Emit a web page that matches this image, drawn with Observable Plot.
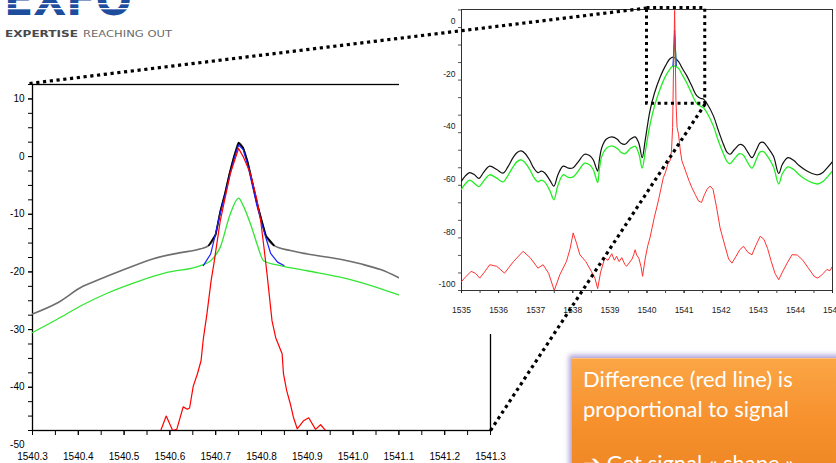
<!DOCTYPE html>
<html><head><meta charset="utf-8">
<script src="https://cdn.jsdelivr.net/npm/d3@7"></script>
<script src="https://cdn.jsdelivr.net/npm/@observablehq/plot@0.6"></script>
<style>
html,body{margin:0;padding:0;background:#fff;}
body{width:836px;height:463px;overflow:hidden;position:relative;}
.abs{position:absolute;}
#leftChart{left:0;top:70px;z-index:1;}
#rightChart{left:399px;top:0;z-index:2;background:#fff;}
#note{left:572px;top:358px;width:300px;height:140px;z-index:3;
  background:linear-gradient(#fba646,#f7922f 40%,#ea821f);
  box-shadow:0 0 5px 3px rgba(150,132,205,0.75);border-top:1px solid #fcc07a;}
#noteText{left:0;top:0;z-index:4;}
#overlay{left:0;top:0;z-index:5;pointer-events:none;}
#logo{left:0;top:0;z-index:0;}
</style></head>
<body>
<svg id="logo" class="abs" width="200" height="45">
  <text x="4" y="15" font-family="DejaVu Sans" font-weight="bold" font-size="46" fill="#1f4d9e" textLength="128" lengthAdjust="spacingAndGlyphs">EXFO</text>
  <rect x="0" y="3" width="140" height="1.3" fill="#fff"/>
  <rect x="0" y="8" width="140" height="1.3" fill="#fff"/>
  <text x="5" y="37" font-family="DejaVu Sans" font-weight="bold" font-size="8" fill="#4a4a4a" textLength="73" lengthAdjust="spacingAndGlyphs">EXPERTISE</text>
  <text x="83" y="37" font-family="DejaVu Sans" font-size="8" fill="#6a6a6a" textLength="89" lengthAdjust="spacingAndGlyphs">REACHING OUT</text>
</svg>
<div id="leftChart" class="abs"></div>
<div id="rightChart" class="abs"></div>
<div id="note" class="abs"></div>
<svg id="noteText" class="abs" width="836" height="463" style="pointer-events:none">
  <g font-family="Lato, 'Open Sans', sans-serif" font-size="22" fill="#fff">
    <text x="583" y="387">Difference (red line) is</text>
    <text x="583" y="417">proportional to signal</text>
    <text x="583" y="471">➔ Get signal « shape »</text>
  </g>
</svg>
<div id="overlay" class="abs"></div>
<script>
// ---------- Left chart (zoom) data ----------
const leftXDomain = [1540.3, 1541.3];
const leftYDomain = [-47.5, 12.5];
const leftXTicks = [1540.3,1540.4,1540.5,1540.6,1540.7,1540.8,1540.9,1541.0,1541.1,1541.2,1541.3];
const leftYTicks = [10,0,-10,-20,-30,-40];
const leftYExtraLabel = [-50];

const leftGrayX = [1540.30,1540.354,1540.41,1540.44,1540.50,1540.564,1540.62,1540.667,1540.685,1540.70,1540.71,1540.72,1540.73,1540.74,1540.75,1540.76,1540.77,1540.78,1540.79,1540.80,1540.81,1540.827,1540.863,1540.90,1540.972,1541.016,1541.06,1541.10];
const leftGrayY = [-27.3,-25.4,-22.5,-21.5,-19.6,-17.7,-16.7,-16.0,-15.4,-13.5,-9.5,-6.5,-3,0,2.4,1.5,-1,-4.5,-8,-11,-13.8,-15.4,-16.3,-16.9,-17.8,-18.6,-19.6,-21.0];

const leftBlackX = [1540.685,1540.70,1540.71,1540.72,1540.73,1540.74,1540.75,1540.76,1540.77,1540.78,1540.79,1540.80,1540.81,1540.827];
const leftBlackY = [-15.4,-13.5,-9.5,-6.5,-3,0,2.4,1.5,-1,-4.5,-8,-11,-13.8,-15.4];

const leftBlueX = [1540.673,1540.689,1540.696,1540.71,1540.72,1540.73,1540.74,1540.75,1540.76,1540.77,1540.78,1540.79,1540.80,1540.81,1540.82,1540.835,1540.849];
const leftBlueY = [-18.9,-16.9,-14.6,-9.8,-6.8,-3.5,-0.4,2.0,1.2,-1.5,-5,-8.5,-11.5,-14.2,-16.8,-18.3,-18.9];

const leftGreenX = [1540.30,1540.354,1540.41,1540.463,1540.536,1540.594,1540.667,1540.69,1540.71,1540.732,1540.75,1540.76,1540.776,1540.79,1540.805,1540.841,1540.90,1540.972,1541.016,1541.10];
const leftGreenY = [-30.5,-28.2,-25.7,-23.7,-21.5,-20.1,-18.9,-18.0,-15.7,-9.9,-7.2,-8.5,-11.7,-15.1,-18.1,-18.9,-19.8,-20.9,-21.8,-24.0];

const leftRedX = [1540.58,1540.592,1540.606,1540.615,1540.629,1540.638,1540.643,1540.651,1540.66,1540.668,1540.673,1540.681,1540.69,1540.696,1540.71,1540.732,1540.75,1540.76,1540.776,1540.79,1540.798,1540.805,1540.812,1540.823,1540.831,1540.845,1540.848,1540.855,1540.863,1540.87,1540.878,1540.892,1540.903,1540.918,1540.929,1540.94];
const leftRedY = [-47.5,-45.0,-47.5,-47.3,-43.4,-43.8,-43.6,-39.8,-37.7,-35.4,-31.6,-27.2,-21.5,-18.6,-11.1,-2.9,1.4,0,-3,-7.5,-11,-15.5,-20.3,-28.5,-31.4,-34.2,-37.7,-40.6,-42.9,-45.3,-47.2,-45.8,-45.3,-47.3,-46.5,-47.5];

// ---------- Right chart (full spectrum) data ----------
const rightXDomain = [1535, 1545];
const rightYDomain = [-100, 6.84];
const rightXTicks = [1535,1536,1537,1538,1539,1540,1541,1542,1543,1544,1545];
const rightYTicks = [0,-20,-40,-60,-80,-100];
const zoomBoxX = [1540.0, 1541.57];
const zoomBoxY = [-29, 7.4];

const rightX = [1535.0,1535.1,1535.22,1535.35,1535.47,1535.6,1535.76,1535.95,1536.12,1536.25,1536.39,1536.5,1536.61,1536.72,1536.84,1536.95,1537.06,1537.15,1537.24,1537.38,1537.49,1537.6,1537.74,1537.88,1538.01,1538.15,1538.32,1538.45,1538.55,1538.62,1538.67,1538.72,1538.78,1538.9,1539.05,1539.2,1539.3,1539.41,1539.55,1539.68,1539.78,1539.87,1539.95,1540.08,1540.2,1540.35,1540.5,1540.62,1540.71,1540.85,1540.95,1541.07,1541.2,1541.34,1541.45,1541.52,1541.62,1541.79,1541.92,1542.06,1542.16,1542.24,1542.35,1542.5,1542.6,1542.72,1542.83,1542.95,1543.05,1543.14,1543.25,1543.41,1543.55,1543.65,1543.8,1543.95,1544.1,1544.3,1544.45,1544.6,1544.75,1544.88,1545.0];
const rightBlackY = [-58.4,-56.5,-55.2,-56,-57.4,-55,-52.7,-54,-55.4,-53,-49.5,-47.5,-46.9,-48,-50.5,-53.5,-55.2,-54.6,-55.2,-58,-60.3,-56,-52.7,-53.5,-53.3,-51,-48.2,-48.7,-50.3,-53,-54.6,-50,-45.7,-42.5,-41.6,-42.5,-44,-44.4,-42.5,-41.6,-44,-49.5,-43,-31.7,-25,-19,-14.5,-11.9,-11.3,-13,-15.5,-18.3,-22,-25.9,-27,-27.2,-29,-33.6,-39,-44.4,-47.5,-48.2,-46.5,-44.5,-45,-47.5,-49.5,-46.5,-43.8,-43.7,-45.5,-49,-55.5,-52,-49.5,-50.5,-52.5,-54.5,-55.5,-56,-55,-53,-51];
const rightGreenY = [-61.5,-59.5,-58,-59.3,-60.5,-58.3,-56,-57.3,-58.7,-56.3,-53,-51,-50.3,-51.5,-54,-57,-58.7,-58,-58.7,-62,-65.5,-60,-56,-57,-56.8,-54.5,-51.6,-52.2,-54,-57,-59,-53.5,-49,-46,-45,-46,-47.5,-48,-46,-45.2,-48,-53.5,-47.5,-37,-30,-23.5,-18.5,-15.8,-14.6,-15.5,-18,-21,-25,-28.8,-30,-30.5,-32.5,-37.5,-43,-48,-51,-51.8,-50,-48,-48.6,-51.5,-53.5,-50,-47.3,-47.2,-49,-53,-59.5,-55.5,-53,-54,-56,-58,-59,-59.5,-58.5,-56.5,-54.5];

const rightGreenSpikeX = [1540.71,1540.735,1540.75,1540.765,1540.79];
const rightGreenSpikeY = [-14.6,-8,-3.5,-8,-15];
const rightBlueSpikeX = [1540.70,1540.73,1540.745,1540.76,1540.79];
const rightBlueSpikeY = [-14.5,-6,-1,-6,-14.5];

const rightRedX = [1535.0,1535.1,1535.26,1535.38,1535.49,1535.62,1535.76,1535.95,1536.16,1536.4,1536.66,1536.85,1537.06,1537.2,1537.35,1537.5,1537.65,1537.83,1537.93,1538.01,1538.1,1538.19,1538.35,1538.5,1538.6,1538.67,1538.75,1538.86,1538.95,1539.05,1539.12,1539.18,1539.25,1539.32,1539.4,1539.45,1539.52,1539.6,1539.65,1539.68,1539.72,1539.78,1539.84,1539.88,1539.95,1540.02,1540.08,1540.14,1540.2,1540.26,1540.32,1540.38,1540.44,1540.5,1540.56,1540.62,1540.66,1540.69,1540.71,1540.73,1540.745,1540.76,1540.78,1540.81,1540.85,1540.9,1540.94,1541.0,1541.07,1541.14,1541.21,1541.3,1541.39,1541.47,1541.55,1541.62,1541.7,1541.78,1541.87,1541.97,1542.1,1542.2,1542.29,1542.4,1542.5,1542.6,1542.72,1542.83,1542.93,1543.05,1543.15,1543.25,1543.35,1543.45,1543.55,1543.65,1543.78,1543.91,1544.05,1544.2,1544.35,1544.5,1544.59,1544.68,1544.75,1544.85,1544.93,1545.0];
const rightRedY = [-96.6,-95,-92.7,-93.5,-95.3,-93,-90.2,-90.8,-93.4,-89,-85.1,-87.5,-91.5,-90.2,-93.5,-100,-94,-88.9,-84,-78.1,-82,-86.4,-89,-92.7,-95.5,-99.3,-93,-87.7,-88.5,-86,-88.5,-87,-89,-87.5,-90,-90.8,-89.5,-88,-86,-84.5,-86.5,-87.7,-91,-94.6,-88,-83,-80,-76,-72,-68.6,-65,-61,-57.1,-55,-52,-50.7,-47,-38,-20,-5,6.5,-8,-28,-38,-40.6,-47,-50.7,-53,-55.8,-58.5,-60.9,-63.5,-66,-66.5,-63.5,-61.5,-60.3,-61.5,-68,-76.2,-83,-88,-89.6,-87,-84.5,-83.2,-85.5,-86.4,-83,-79.4,-80.5,-84,-89,-93.5,-95.9,-93,-89.5,-86.4,-86.5,-88.5,-91.5,-94.5,-95.3,-94.5,-93.5,-92,-92.5,-90.8];

// ---------- build ----------
const hy = d => String(d);  // plain hyphen minus as in the original
const font = "'Liberation Sans', Arial, sans-serif";

const leftPlot = Plot.plot({
  width: 530, height: 393,
  marginLeft: 32, marginRight: 40, marginTop: 14, marginBottom: 33,
  style: {background: "transparent", fontFamily: font, fontSize: "10px", color: "#000", overflow: "visible"},
  x: {domain: leftXDomain},
  y: {domain: leftYDomain},
  marks: [
    Plot.frame({stroke: "#000", strokeWidth: 1.3}),
    Plot.axisX({ticks: d3.range(1540.3, 1541.31, 0.05), tickSize: 5, tickFormat: () => "", label: null, stroke: "#000"}),
    Plot.axisX({ticks: leftXTicks, tickSize: 5, tickPadding: 17, tickFormat: d => d.toFixed(1), label: null, fill: "#000"}),
    Plot.axisY({ticks: d3.range(12.5, -47.6, -2.5), tickSize: 4, tickFormat: () => "", label: null}),
    Plot.axisY({ticks: leftYTicks, tickSize: 4, tickPadding: 4, tickFormat: hy, label: null, fill: "#000"}),
    Plot.text(leftYExtraLabel, {x: () => leftXDomain[0], y: d => d, text: hy, dx: -8, textAnchor: "end", fill: "#000", clip: false}),
    Plot.line(leftGrayX, {x: leftGrayX, y: leftGrayY, stroke: "#6e6e6e", strokeWidth: 1.6, curve: "monotone-x", clip: true}),
    Plot.line(leftGreenX, {x: leftGreenX, y: leftGreenY, stroke: "#33e633", strokeWidth: 1.3, curve: "monotone-x", clip: true}),
    Plot.line(leftBlackX, {x: leftBlackX, y: leftBlackY, stroke: "#000", strokeWidth: 1.7, clip: true}),
    Plot.line(leftBlueX, {x: leftBlueX, y: leftBlueY, stroke: "#1f1fff", strokeWidth: 1.2, clip: true}),
    Plot.line(leftRedX, {x: leftRedX, y: leftRedY, stroke: "#ff0000", strokeWidth: 1.2, clip: true})
  ]
});
document.getElementById("leftChart").appendChild(leftPlot);

const rightPlot = Plot.plot({
  width: 437, height: 334,
  marginLeft: 62, marginRight: 4, marginTop: 9, marginBottom: 44,
  style: {background: "#fff", fontFamily: font, fontSize: "8.5px", color: "#222", overflow: "visible"},
  x: {domain: rightXDomain},
  y: {domain: rightYDomain},
  marks: [
    Plot.frame({stroke: "#333", strokeWidth: 1}),
    Plot.axisX({ticks: d3.range(1535, 1545.01, 0.5), tickSize: 3, tickFormat: () => "", label: null, stroke: "#444"}),
    Plot.axisX({ticks: rightXTicks, tickSize: 3, tickPadding: 13, tickFormat: hy, label: null, fill: "#222"}),
    Plot.axisY({ticks: d3.range(-100, 7, 20 / 3), tickSize: 3, tickFormat: () => "", label: null, stroke: "#555"}),
    Plot.axisY({ticks: rightYTicks, tickSize: 0, tickPadding: 6, dy: -6, tickFormat: hy, label: null, fill: "#222"}),
    Plot.line(rightX, {x: rightX, y: rightBlackY, stroke: "#111", strokeWidth: 1.2, curve: "catmull-rom", clip: true}),
    Plot.line(rightX, {x: rightX, y: rightGreenY, stroke: "#22ee22", strokeWidth: 1.3, curve: "catmull-rom", clip: true}),
    Plot.line(rightGreenSpikeX, {x: rightGreenSpikeX, y: rightGreenSpikeY, stroke: "#22ee22", strokeWidth: 1.2, clip: true}),
    Plot.line(rightBlueSpikeX, {x: rightBlueSpikeX, y: rightBlueSpikeY, stroke: "#2222ff", strokeWidth: 1, clip: true}),
    Plot.line(rightRedX, {x: rightRedX, y: rightRedY, stroke: "#ff3030", strokeWidth: 1, clip: true}),
    Plot.rect([{x1: zoomBoxX[0], x2: zoomBoxX[1], y1: zoomBoxY[0], y2: zoomBoxY[1]}],
      {x1: "x1", x2: "x2", y1: "y1", y2: "y2", fill: "none", stroke: "#000", strokeWidth: 3, strokeDasharray: "3,3.6"})
  ]
});
document.getElementById("rightChart").appendChild(rightPlot);

// connector lines, placed through the two charts' own scales
const L = {left: 0, top: 70}, R = {left: 399, top: 0};
const lx = leftPlot.scale("x"), ly = leftPlot.scale("y");
const rx = rightPlot.scale("x"), ry = rightPlot.scale("y");
const links = [
  {x1: L.left + lx.apply(leftXDomain[0]) - 3, y1: L.top + ly.apply(leftYDomain[1]) - 1,
   x2: R.left + rx.apply(zoomBoxX[0]), y2: R.top + ry.apply(zoomBoxY[1])},
  {x1: L.left + lx.apply(leftXDomain[1]), y1: L.top + ly.apply(leftYDomain[0]),
   x2: R.left + rx.apply(zoomBoxX[1]), y2: R.top + ry.apply(zoomBoxY[0])}
];
const overlay = Plot.plot({
  width: 836, height: 463, margin: 0,
  x: {type: "identity", axis: null}, y: {type: "identity", axis: null},
  style: {background: "transparent"},
  marks: [
    Plot.link(links, {x1: "x1", y1: "y1", x2: "x2", y2: "y2", stroke: "#000", strokeWidth: 3.2, strokeDasharray: "3.2,3.6"})
  ]
});
document.getElementById("overlay").appendChild(overlay);
</script>
</body></html>
